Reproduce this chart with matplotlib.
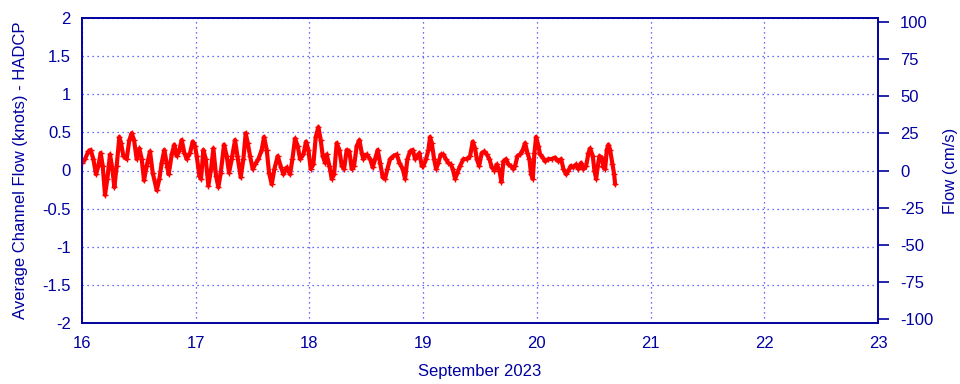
import matplotlib
matplotlib.use("Agg")
import matplotlib.pyplot as plt
import numpy as np

# Time in hours since 16 Sep 2023 00:00, flow in knots
hours = [0.0, 0.64, 1.34, 1.83, 2.39, 2.96, 3.45, 3.94, 4.37, 4.86, 5.35, 5.91, 6.41, 6.83,
         7.32, 7.88, 8.24, 8.73, 9.43, 9.99, 10.49, 10.98, 11.54, 12.11, 12.60, 13.09, 13.65,
         14.36, 14.92, 15.77, 16.33, 16.82, 17.38, 18.02, 18.30, 18.93, 19.49, 19.99, 20.48,
         21.04, 21.61, 22.10, 22.80, 23.37, 23.86, 24.21, 24.77, 25.12, 25.62, 26.11, 26.67,
         27.24, 27.73, 28.29, 28.78, 29.28, 29.98, 30.54, 31.04, 31.60, 32.30, 32.80, 33.50,
         34.06, 34.55, 34.98, 35.47, 36.03, 36.52, 37.23, 37.93, 38.42, 38.99, 39.48, 40.04,
         40.61, 41.31, 42.01, 42.51, 43.21, 43.91, 44.41, 44.97, 45.53, 46.02,
         46.72, 47.29, 47.78, 48.27, 48.83, 49.33, 49.89, 50.38, 50.81, 51.30, 51.65, 52.21,
         52.71, 53.20, 53.76, 54.32, 54.82, 55.31, 55.87, 56.43, 56.93, 57.42, 57.98, 58.55,
         59.04, 59.39, 60.09, 60.80, 61.36, 61.85, 62.42, 62.91, 63.47, 63.96, 64.46, 65.02,
         65.72, 66.43, 66.99, 67.69, 68.19, 68.68, 69.24, 69.81, 70.30, 70.79, 71.21, 71.71,
         72.06, 72.62, 73.11, 73.46, 73.82, 74.31, 74.73, 75.22, 75.72, 76.28, 76.77, 77.33,
         77.83, 78.25, 78.74, 79.23, 79.80, 80.50, 81.21, 81.91, 82.47, 82.96, 83.32, 83.81,
         84.37, 84.93, 85.43, 85.99, 86.48, 87.05, 87.54, 88.10, 88.52,
         88.94, 89.51, 90.00, 90.49, 91.05, 91.41, 91.90, 92.46, 93.03, 93.52, 94.01, 94.43,
         94.78, 95.14, 95.49, 95.84, 96.33, 96.68, 97.25, 97.74, 98.44, 99.15, 99.85, 100.55,
         101.12, 101.61, 102.17, 102.67, 103.16, 103.72, 104.28, 104.78, 105.34, 105.83,
         106.40, 106.89, 107.24, 107.80, 108.15, 108.51, 108.86, 109.21, 109.70, 110.06,
         110.41, 110.76, 111.11, 111.46, 111.96, 112.31, 112.52]
knots = [0.10, 0.15, 0.25, 0.27, 0.15, -0.05, 0.06, 0.23, 0.06, -0.32, -0.11, 0.21, 0.02, -0.22,
         0.06, 0.44, 0.36, 0.19, 0.15, 0.40, 0.49, 0.40, 0.15, 0.29, 0.15, -0.13, 0.06,
         0.25, -0.03, -0.26, -0.11, 0.10, 0.27, 0.04, -0.05, 0.21, 0.34, 0.19, 0.25,
         0.40, 0.23, 0.15, 0.23, 0.38, 0.32, 0.19, -0.07, -0.11, 0.27, 0.15, -0.20,
         0.02, 0.29, -0.07, -0.22, -0.03, 0.34, 0.19, -0.03, 0.15, 0.40, 0.19, -0.09,
         0.15, 0.49, 0.36, 0.19, 0.02, 0.08, 0.15, 0.27, 0.44, 0.27, -0.03, -0.18,
         0.02, 0.19, 0.04, -0.05, 0.04, -0.05, 0.15, 0.42, 0.32, 0.15,
         0.21, 0.38, 0.27, 0.02, 0.08, 0.44, 0.57, 0.40, 0.19, 0.10, 0.21, 0.06,
         -0.11, -0.05, 0.36, 0.27, 0.06, 0.02, 0.27, 0.25, 0.02, 0.06, 0.32, 0.40,
         0.23, 0.15, 0.21, 0.15, 0.04, 0.15, 0.27, 0.10, -0.09, -0.11, 0.02, 0.15,
         0.19, 0.21, 0.10, 0.02, -0.11, 0.15, 0.25, 0.27, 0.15, 0.19, 0.23, 0.06,
         0.06, 0.15, 0.27, 0.44, 0.36, 0.15, 0.02, 0.10, 0.21, 0.21, 0.15, 0.10,
         0.08, 0.02, -0.11, -0.03, 0.06, 0.15, 0.15, 0.19, 0.38, 0.29, 0.15, 0.06,
         0.23, 0.25, 0.21, 0.15, 0.04, 0.00, 0.08, 0.00, -0.15,
         0.12, 0.15, 0.08, 0.06, 0.02, 0.06, 0.19, 0.21, 0.27, 0.36, 0.23, 0.15,
         -0.05, -0.11, 0.23, 0.44, 0.32, 0.21, 0.17, 0.12, 0.15, 0.15, 0.17, 0.12,
         0.15, 0.02, -0.05, 0.00, 0.06, 0.04, 0.08, 0.02, 0.10, 0.02,
         0.06, 0.23, 0.29, 0.19, 0.00, -0.11, 0.06, 0.19, 0.17, 0.04,
         0.02, 0.27, 0.34, 0.27, 0.08, -0.05, -0.18]

x_ticks = [16, 17, 18, 19, 20, 21, 22, 23]
y_ticks = [-2, -1.5, -1, -0.5, 0, 0.5, 1, 1.5, 2]
y2_ticks = [-100, -75, -50, -25, 0, 25, 50, 75, 100]
KNOT_TO_CMS = 51.4444

plt.rcParams['font.family'] = ['Liberation Sans', 'DejaVu Sans']
navy = '#0000a0'
gridc = '#3a3aff'

fig = plt.figure(figsize=(9.6, 3.84), dpi=100)
ax = fig.add_axes([82/960, 1-323/384, (878-82)/960, (323-18)/384])

days = 16 + np.array(hours) / 24.0
ax.plot(days, knots, color='red', lw=3.0, solid_joinstyle='round', solid_capstyle='round',
        marker='+', ms=4, mew=1, zorder=3)

ax.set_xlim(16, 23)
ax.set_ylim(-2, 2)
ax.set_xticks(x_ticks)
ax.set_xticklabels([str(t) for t in x_ticks])
ax.set_yticks(y_ticks)
ax.set_yticklabels([('%g' % t) for t in y_ticks])
ax.grid(True, color=gridc, ls=(0, (1, 3)), lw=0.9)
ax.tick_params(axis='both', colors=navy, labelsize=12, length=0, pad=8)
ax.tick_params(axis='x', pad=9)
for s in ax.spines.values():
    s.set_color(navy)
    s.set_linewidth(1.2)

ax.set_xlabel('September 2023', color=navy, fontsize=12, labelpad=10)
ax.set_ylabel('Average Channel Flow (knots) - HADCP', color=navy, fontsize=12, labelpad=10)

ax2 = ax.twinx()
ax2.set_ylim(-2 * KNOT_TO_CMS, 2 * KNOT_TO_CMS)
ax2.set_yticks(y2_ticks)
ax2.set_yticklabels([str(t) for t in y2_ticks])
ax2.tick_params(axis='y', colors=navy, labelsize=12, direction='out', length=8, width=1.2, pad=8)
for s in ax2.spines.values():
    s.set_color(navy)
    s.set_linewidth(1.2)
ax2.set_ylabel('Flow (cm/s)', color=navy, fontsize=12, rotation=90, va='center', ha='center')
ax2.yaxis.set_label_coords((950 - 82) / 796, 0.5)

fig.savefig('out.png', dpi=100)
